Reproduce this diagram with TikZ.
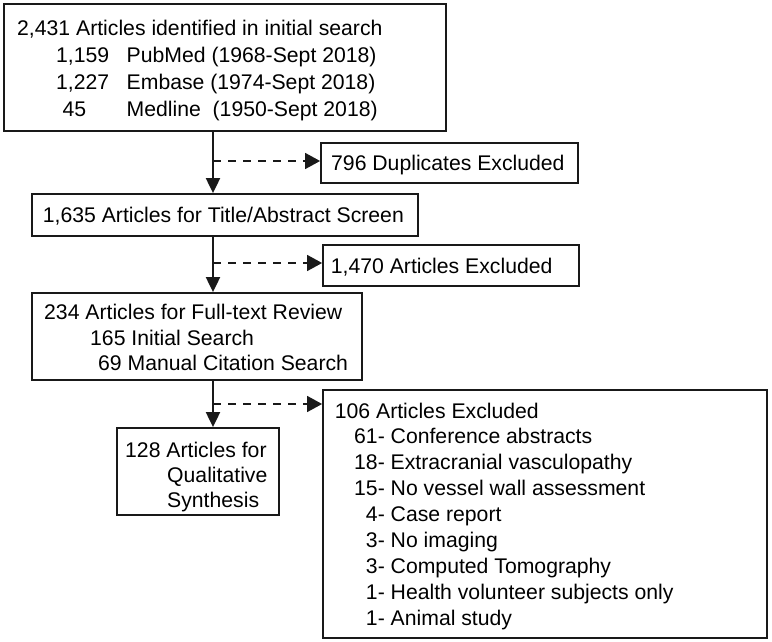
\documentclass[tikz,border=0pt]{standalone}
\usepackage{fontspec}
\setmainfont{Liberation Sans}
\usetikzlibrary{arrows.meta}
\begin{document}
\begin{tikzpicture}[x=1pt,y=-1pt,
  box/.style={draw=black!90, line width=1.8pt, rectangle, inner sep=0pt},
  txt/.style={anchor=base west, inner sep=0pt, text=black, font=\fontsize{21.2}{25}\selectfont},
  trunk/.style={draw=black!90, line width=2pt, -{Triangle[length=15pt,width=14pt]}},
  dsh/.style={draw=black!90, line width=1.5pt, dash pattern=on 8pt off 7pt, -{Triangle[length=15pt,width=16pt]}}
]
\useasboundingbox (0,0) rectangle (772,642);

% boxes
\node[box, minimum width=442pt, minimum height=127pt] (b1) at (225,67.5) {};
\node[box, minimum width=257pt, minimum height=40pt] (dup) at (449.5,163) {};
\node[box, minimum width=386pt, minimum height=42pt] (b2) at (225,215) {};
\node[box, minimum width=256pt, minimum height=41pt] (exc) at (451,265.5) {};
\node[box, minimum width=330pt, minimum height=87pt] (b3) at (197,336.5) {};
\node[box, minimum width=162pt, minimum height=87pt] (b4) at (198,471.5) {};
\node[box, minimum width=444pt, minimum height=248pt] (b5) at (545,514) {};

% texts box 1
\node[txt] (t1a) at (17,36) {2,431 Articles identified in initial search};
\node[txt] (t1b) at (56,63) {1,159};
\node[txt] (t1c) at (126.5,63) {PubMed (1968-Sept 2018)};
\node[txt] (t1d) at (56,90) {1,227};
\node[txt] (t1e) at (126.5,90) {Embase (1974-Sept 2018)};
\node[txt] (t1f) at (62.5,117) {45};
\node[txt] (t1g) at (126.5,117) {Medline~ (1950-Sept 2018)};

\node[txt] (tdup) at (331,170.5) {796 Duplicates Excluded};
\node[txt] (t2) at (42.7,222) {1,635 Articles for Title/Abstract Screen};
\node[txt] (texc) at (330.7,273.5) {1,470 Articles Excluded};

\node[txt] (t3a) at (44,319) {234 Articles for Full-text Review};
\node[txt] (t3b) at (90,345) {165 Initial Search};
\node[txt] (t3c) at (98,370) {69 Manual Citation Search};

\node[txt] (t4a) at (125,457) {128 Articles for};
\node[txt] (t4b) at (167,482) {Qualitative};
\node[txt] (t4c) at (167,507) {Synthesis};

\node[txt] (t5a) at (334.7,418) {106 Articles Excluded};
\node[txt] (t5b) at (354,443.9) {61- Conference abstracts};
\node[txt] (t5c) at (354,469.8) {18- Extracranial vasculopathy};
\node[txt] (t5d) at (354,495.7) {15- No vessel wall assessment};
\node[txt] (t5e) at (354,521.6) {\phantom{0}4- Case report};
\node[txt] (t5f) at (354,547.5) {\phantom{0}3- No imaging};
\node[txt] (t5g) at (354,573.4) {\phantom{0}3- Computed Tomography};
\node[txt] (t5h) at (354,599.3) {\phantom{0}1- Health volunteer subjects only};
\node[txt] (t5i) at (354,625.2) {\phantom{0}1- Animal study};

% connectors
\coordinate (tx) at (213,0);
\draw[trunk] (b1.south -| tx) -- (b2.north -| tx);
\draw[trunk] (b2.south -| tx) -- (b3.north -| tx);
\draw[trunk] (b3.south -| tx) -- (b4.north -| tx);
\coordinate (d1) at (213,161);
\coordinate (d2) at (213,263);
\coordinate (d3) at (213,404);
\draw[dsh] (d1) -- (d1 -| dup.west);
\draw[dsh] (d2) -- (d2 -| exc.west);
\draw[dsh] (d3) -- (d3 -| b5.west);
\end{tikzpicture}
\end{document}
